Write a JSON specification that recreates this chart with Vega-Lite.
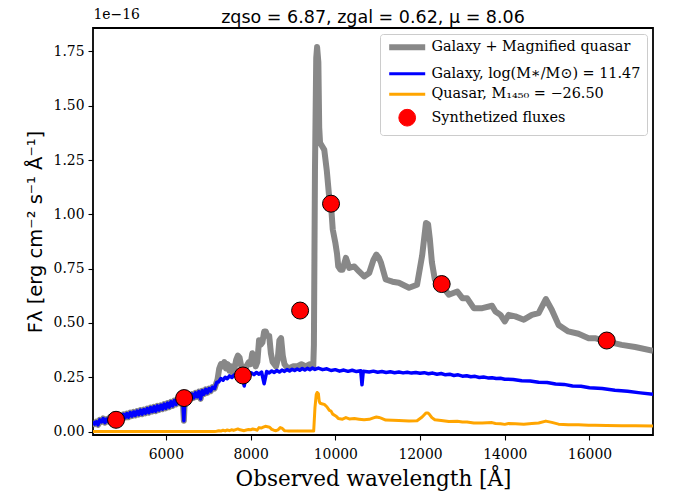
{
  "$schema": "https://vega.github.io/schema/vega-lite/v6.json",
  "autosize": "none",
  "width": 560,
  "height": 407,
  "padding": {"left": 93, "top": 28, "right": 20, "bottom": 60},
  "background": "white",
  "title": {"text": "zqso = 6.87, zgal = 0.62, μ = 8.06", "font": "DejaVu Sans", "fontSize": 17.5, "fontWeight": "normal", "color": "black", "anchor": "middle", "baseline": "alphabetic", "offset": -33},
  "config": {
    "view": {"stroke": "black", "strokeWidth": 1.8},
    "axis": {"grid": false, "domain": false, "tickColor": "black", "tickSize": 5, "tickWidth": 1.1, "labelColor": "black", "labelFont": "DejaVu Serif", "labelFontSize": 13.9, "labelPadding": 4, "titleColor": "black", "titleFontWeight": "normal"}
  },
  "datasets": {
    "galaxy": [
      {"wl": 4280, "flux": 0.046}, {"wl": 4320, "flux": 0.034}, {"wl": 4360, "flux": 0.045}, {"wl": 4400, "flux": 0.031}, {"wl": 4440, "flux": 0.054}, {"wl": 4480, "flux": 0.044}, {"wl": 4520, "flux": 0.060}, {"wl": 4560, "flux": 0.041}, {"wl": 4600, "flux": 0.057}, {"wl": 4640, "flux": 0.046}, {"wl": 4680, "flux": 0.066}, {"wl": 4720, "flux": 0.050}, {"wl": 4760, "flux": 0.068}, {"wl": 4800, "flux": 0.052}, {"wl": 4840, "flux": 0.071}, {"wl": 4880, "flux": 0.058}, {"wl": 4920, "flux": 0.076}, {"wl": 4960, "flux": 0.060}, {"wl": 5000, "flux": 0.079}, {"wl": 5040, "flux": 0.064}, {"wl": 5080, "flux": 0.083}, {"wl": 5120, "flux": 0.066}, {"wl": 5160, "flux": 0.087}, {"wl": 5200, "flux": 0.071}, {"wl": 5240, "flux": 0.090}, {"wl": 5280, "flux": 0.074}, {"wl": 5320, "flux": 0.094}, {"wl": 5360, "flux": 0.078}, {"wl": 5400, "flux": 0.099}, {"wl": 5440, "flux": 0.080}, {"wl": 5480, "flux": 0.101}, {"wl": 5520, "flux": 0.084}, {"wl": 5560, "flux": 0.106}, {"wl": 5600, "flux": 0.087}, {"wl": 5640, "flux": 0.110}, {"wl": 5680, "flux": 0.092}, {"wl": 5720, "flux": 0.114}, {"wl": 5760, "flux": 0.094}, {"wl": 5800, "flux": 0.118}, {"wl": 5840, "flux": 0.099}, {"wl": 5880, "flux": 0.121}, {"wl": 5920, "flux": 0.103}, {"wl": 5960, "flux": 0.126}, {"wl": 6000, "flux": 0.107}, {"wl": 6040, "flux": 0.131}, {"wl": 6080, "flux": 0.112}, {"wl": 6120, "flux": 0.137}, {"wl": 6160, "flux": 0.118}, {"wl": 6200, "flux": 0.143}, {"wl": 6240, "flux": 0.125}, {"wl": 6280, "flux": 0.149}, {"wl": 6320, "flux": 0.130}, {"wl": 6360, "flux": 0.155}, {"wl": 6400, "flux": 0.138}, {"wl": 6425, "flux": 0.050}, {"wl": 6450, "flux": 0.160}, {"wl": 6500, "flux": 0.145}, {"wl": 6540, "flux": 0.166}, {"wl": 6580, "flux": 0.150}, {"wl": 6620, "flux": 0.172}, {"wl": 6660, "flux": 0.155}, {"wl": 6700, "flux": 0.178}, {"wl": 6740, "flux": 0.160}, {"wl": 6780, "flux": 0.184}, {"wl": 6820, "flux": 0.150}, {"wl": 6860, "flux": 0.188}, {"wl": 6900, "flux": 0.172}, {"wl": 6940, "flux": 0.194}, {"wl": 6980, "flux": 0.178}, {"wl": 7020, "flux": 0.198}, {"wl": 7060, "flux": 0.186}, {"wl": 7100, "flux": 0.204}, {"wl": 7150, "flux": 0.198}, {"wl": 7200, "flux": 0.226}, {"wl": 7250, "flux": 0.229}, {"wl": 7300, "flux": 0.244}, {"wl": 7350, "flux": 0.236}, {"wl": 7400, "flux": 0.250}, {"wl": 7450, "flux": 0.243}, {"wl": 7500, "flux": 0.256}, {"wl": 7560, "flux": 0.249}, {"wl": 7620, "flux": 0.261}, {"wl": 7680, "flux": 0.252}, {"wl": 7740, "flux": 0.263}, {"wl": 7800, "flux": 0.256}, {"wl": 7850, "flux": 0.210}, {"wl": 7900, "flux": 0.266}, {"wl": 7960, "flux": 0.259}, {"wl": 8020, "flux": 0.270}, {"wl": 8080, "flux": 0.262}, {"wl": 8140, "flux": 0.272}, {"wl": 8200, "flux": 0.264}, {"wl": 8260, "flux": 0.274}, {"wl": 8320, "flux": 0.220}, {"wl": 8380, "flux": 0.276}, {"wl": 8440, "flux": 0.270}, {"wl": 8500, "flux": 0.279}, {"wl": 8560, "flux": 0.272}, {"wl": 8620, "flux": 0.281}, {"wl": 8680, "flux": 0.274}, {"wl": 8740, "flux": 0.283}, {"wl": 8800, "flux": 0.277}, {"wl": 8860, "flux": 0.285}, {"wl": 8920, "flux": 0.279}, {"wl": 8980, "flux": 0.287}, {"wl": 9040, "flux": 0.281}, {"wl": 9100, "flux": 0.288}, {"wl": 9160, "flux": 0.282}, {"wl": 9220, "flux": 0.290}, {"wl": 9280, "flux": 0.283}, {"wl": 9340, "flux": 0.291}, {"wl": 9400, "flux": 0.285}, {"wl": 9460, "flux": 0.292}, {"wl": 9520, "flux": 0.286}, {"wl": 9600, "flux": 0.292}, {"wl": 9700, "flux": 0.285}, {"wl": 9800, "flux": 0.289}, {"wl": 9900, "flux": 0.281}, {"wl": 10000, "flux": 0.285}, {"wl": 10100, "flux": 0.278}, {"wl": 10200, "flux": 0.283}, {"wl": 10300, "flux": 0.277}, {"wl": 10400, "flux": 0.282}, {"wl": 10500, "flux": 0.276}, {"wl": 10600, "flux": 0.280}, {"wl": 10630, "flux": 0.215}, {"wl": 10660, "flux": 0.278}, {"wl": 10800, "flux": 0.274}, {"wl": 10900, "flux": 0.278}, {"wl": 11000, "flux": 0.273}, {"wl": 11100, "flux": 0.276}, {"wl": 11200, "flux": 0.272}, {"wl": 11300, "flux": 0.275}, {"wl": 11400, "flux": 0.271}, {"wl": 11500, "flux": 0.274}, {"wl": 11600, "flux": 0.270}, {"wl": 11700, "flux": 0.273}, {"wl": 11800, "flux": 0.269}, {"wl": 11900, "flux": 0.272}, {"wl": 12000, "flux": 0.268}, {"wl": 12100, "flux": 0.271}, {"wl": 12200, "flux": 0.266}, {"wl": 12300, "flux": 0.269}, {"wl": 12400, "flux": 0.264}, {"wl": 12500, "flux": 0.267}, {"wl": 12600, "flux": 0.261}, {"wl": 12700, "flux": 0.264}, {"wl": 12800, "flux": 0.258}, {"wl": 12900, "flux": 0.261}, {"wl": 13000, "flux": 0.255}, {"wl": 13100, "flux": 0.257}, {"wl": 13200, "flux": 0.252}, {"wl": 13300, "flux": 0.254}, {"wl": 13400, "flux": 0.249}, {"wl": 13500, "flux": 0.251}, {"wl": 13600, "flux": 0.247}, {"wl": 13700, "flux": 0.248}, {"wl": 13800, "flux": 0.244}, {"wl": 13900, "flux": 0.245}, {"wl": 14000, "flux": 0.241}, {"wl": 14200, "flux": 0.240}, {"wl": 14400, "flux": 0.234}, {"wl": 14600, "flux": 0.233}, {"wl": 14800, "flux": 0.227}, {"wl": 15000, "flux": 0.226}, {"wl": 15200, "flux": 0.219}, {"wl": 15400, "flux": 0.217}, {"wl": 15600, "flux": 0.210}, {"wl": 15800, "flux": 0.208}, {"wl": 16000, "flux": 0.202}, {"wl": 16300, "flux": 0.198}, {"wl": 16600, "flux": 0.190}, {"wl": 16900, "flux": 0.185}, {"wl": 17200, "flux": 0.178}, {"wl": 17500, "flux": 0.172}
    ],
    "total": [
      {"wl": 4280, "flux": 0.046}, {"wl": 4320, "flux": 0.034}, {"wl": 4360, "flux": 0.045}, {"wl": 4400, "flux": 0.031}, {"wl": 4440, "flux": 0.054}, {"wl": 4480, "flux": 0.044}, {"wl": 4520, "flux": 0.060}, {"wl": 4560, "flux": 0.041}, {"wl": 4600, "flux": 0.057}, {"wl": 4640, "flux": 0.046}, {"wl": 4680, "flux": 0.066}, {"wl": 4720, "flux": 0.050}, {"wl": 4760, "flux": 0.068}, {"wl": 4800, "flux": 0.052}, {"wl": 4840, "flux": 0.071}, {"wl": 4880, "flux": 0.058}, {"wl": 4920, "flux": 0.076}, {"wl": 4960, "flux": 0.060}, {"wl": 5000, "flux": 0.079}, {"wl": 5040, "flux": 0.064}, {"wl": 5080, "flux": 0.083}, {"wl": 5120, "flux": 0.066}, {"wl": 5160, "flux": 0.087}, {"wl": 5200, "flux": 0.071}, {"wl": 5240, "flux": 0.090}, {"wl": 5280, "flux": 0.074}, {"wl": 5320, "flux": 0.094}, {"wl": 5360, "flux": 0.078}, {"wl": 5400, "flux": 0.099}, {"wl": 5440, "flux": 0.080}, {"wl": 5480, "flux": 0.101}, {"wl": 5520, "flux": 0.084}, {"wl": 5560, "flux": 0.106}, {"wl": 5600, "flux": 0.087}, {"wl": 5640, "flux": 0.110}, {"wl": 5680, "flux": 0.092}, {"wl": 5720, "flux": 0.114}, {"wl": 5760, "flux": 0.094}, {"wl": 5800, "flux": 0.118}, {"wl": 5840, "flux": 0.099}, {"wl": 5880, "flux": 0.121}, {"wl": 5920, "flux": 0.103}, {"wl": 5960, "flux": 0.126}, {"wl": 6000, "flux": 0.107}, {"wl": 6040, "flux": 0.131}, {"wl": 6080, "flux": 0.112}, {"wl": 6120, "flux": 0.137}, {"wl": 6160, "flux": 0.118}, {"wl": 6200, "flux": 0.143}, {"wl": 6240, "flux": 0.125}, {"wl": 6280, "flux": 0.149}, {"wl": 6320, "flux": 0.130}, {"wl": 6360, "flux": 0.155}, {"wl": 6400, "flux": 0.138}, {"wl": 6425, "flux": 0.050}, {"wl": 6450, "flux": 0.160}, {"wl": 6500, "flux": 0.145}, {"wl": 6540, "flux": 0.166}, {"wl": 6580, "flux": 0.150}, {"wl": 6620, "flux": 0.172}, {"wl": 6660, "flux": 0.155}, {"wl": 6700, "flux": 0.178}, {"wl": 6740, "flux": 0.160}, {"wl": 6780, "flux": 0.184}, {"wl": 6820, "flux": 0.150}, {"wl": 6860, "flux": 0.188}, {"wl": 6900, "flux": 0.172}, {"wl": 6940, "flux": 0.194}, {"wl": 6980, "flux": 0.178}, {"wl": 7020, "flux": 0.198}, {"wl": 7060, "flux": 0.186}, {"wl": 7100, "flux": 0.204}, {"wl": 7150, "flux": 0.198},
      {"wl": 7220, "flux": 0.24}, {"wl": 7260, "flux": 0.29}, {"wl": 7300, "flux": 0.31}, {"wl": 7340, "flux": 0.30}, {"wl": 7380, "flux": 0.32}, {"wl": 7420, "flux": 0.29}, {"wl": 7460, "flux": 0.31}, {"wl": 7500, "flux": 0.28}, {"wl": 7540, "flux": 0.30}, {"wl": 7580, "flux": 0.27}, {"wl": 7620, "flux": 0.29}, {"wl": 7660, "flux": 0.33}, {"wl": 7700, "flux": 0.35}, {"wl": 7740, "flux": 0.34}, {"wl": 7780, "flux": 0.30}, {"wl": 7820, "flux": 0.28}, {"wl": 7860, "flux": 0.27}, {"wl": 7900, "flux": 0.30}, {"wl": 7960, "flux": 0.32}, {"wl": 8000, "flux": 0.31}, {"wl": 8040, "flux": 0.36}, {"wl": 8080, "flux": 0.35}, {"wl": 8120, "flux": 0.30}, {"wl": 8160, "flux": 0.32}, {"wl": 8200, "flux": 0.42}, {"wl": 8240, "flux": 0.40}, {"wl": 8280, "flux": 0.41}, {"wl": 8320, "flux": 0.46}, {"wl": 8360, "flux": 0.46}, {"wl": 8400, "flux": 0.44}, {"wl": 8440, "flux": 0.44}, {"wl": 8480, "flux": 0.36}, {"wl": 8520, "flux": 0.32}, {"wl": 8560, "flux": 0.31}, {"wl": 8600, "flux": 0.30}, {"wl": 8640, "flux": 0.33}, {"wl": 8680, "flux": 0.42}, {"wl": 8720, "flux": 0.43}, {"wl": 8760, "flux": 0.35}, {"wl": 8800, "flux": 0.31}, {"wl": 8840, "flux": 0.30}, {"wl": 8900, "flux": 0.29}, {"wl": 9000, "flux": 0.30}, {"wl": 9100, "flux": 0.30}, {"wl": 9200, "flux": 0.31}, {"wl": 9300, "flux": 0.30}, {"wl": 9400, "flux": 0.31}, {"wl": 9480, "flux": 0.30},
      {"wl": 9495, "flux": 0.40}, {"wl": 9520, "flux": 1.20}, {"wl": 9550, "flux": 1.72}, {"wl": 9570, "flux": 1.77}, {"wl": 9600, "flux": 1.70}, {"wl": 9620, "flux": 1.40}, {"wl": 9640, "flux": 1.33}, {"wl": 9700, "flux": 1.31}, {"wl": 9740, "flux": 1.297}, {"wl": 9800, "flux": 1.20}, {"wl": 9860, "flux": 1.07}, {"wl": 9900, "flux": 1.04}, {"wl": 9940, "flux": 0.93}, {"wl": 10000, "flux": 0.87}, {"wl": 10040, "flux": 0.82}, {"wl": 10070, "flux": 0.76}, {"wl": 10120, "flux": 0.745}, {"wl": 10170, "flux": 0.745}, {"wl": 10250, "flux": 0.80}, {"wl": 10330, "flux": 0.753}, {"wl": 10450, "flux": 0.76}, {"wl": 10560, "flux": 0.737}, {"wl": 10680, "flux": 0.714}, {"wl": 10800, "flux": 0.73}, {"wl": 10900, "flux": 0.79}, {"wl": 10970, "flux": 0.815}, {"wl": 11030, "flux": 0.80}, {"wl": 11080, "flux": 0.776}, {"wl": 11190, "flux": 0.70}, {"wl": 11350, "flux": 0.69}, {"wl": 11500, "flux": 0.685}, {"wl": 11740, "flux": 0.662}, {"wl": 11930, "flux": 0.676}, {"wl": 12050, "flux": 0.81}, {"wl": 12140, "flux": 0.96}, {"wl": 12190, "flux": 0.955}, {"wl": 12230, "flux": 0.89}, {"wl": 12280, "flux": 0.78}, {"wl": 12350, "flux": 0.70}, {"wl": 12500, "flux": 0.675}, {"wl": 12680, "flux": 0.63}, {"wl": 12880, "flux": 0.645}, {"wl": 13000, "flux": 0.614}, {"wl": 13110, "flux": 0.614}, {"wl": 13270, "flux": 0.568}, {"wl": 13470, "flux": 0.568}, {"wl": 13700, "flux": 0.579}, {"wl": 13780, "flux": 0.553}, {"wl": 13900, "flux": 0.537}, {"wl": 14000, "flux": 0.507}, {"wl": 14090, "flux": 0.537}, {"wl": 14250, "flux": 0.53}, {"wl": 14450, "flux": 0.515}, {"wl": 14640, "flux": 0.537}, {"wl": 14800, "flux": 0.545}, {"wl": 14970, "flux": 0.61}, {"wl": 15110, "flux": 0.561}, {"wl": 15270, "flux": 0.491}, {"wl": 15500, "flux": 0.461}, {"wl": 15740, "flux": 0.45}, {"wl": 15980, "flux": 0.43}, {"wl": 16130, "flux": 0.43}, {"wl": 16400, "flux": 0.415}, {"wl": 16760, "flux": 0.399}, {"wl": 17080, "flux": 0.389}, {"wl": 17500, "flux": 0.372}
    ],
    "quasar": [
      {"wl": 4280, "flux": 0.0}, {"wl": 7150, "flux": 0.0}, {"wl": 7200, "flux": 0.001}, {"wl": 7250, "flux": 0.004}, {"wl": 7300, "flux": 0.002}, {"wl": 7350, "flux": 0.006}, {"wl": 7400, "flux": 0.003}, {"wl": 7450, "flux": 0.007}, {"wl": 7500, "flux": 0.004}, {"wl": 7550, "flux": 0.008}, {"wl": 7600, "flux": 0.005}, {"wl": 7650, "flux": 0.009}, {"wl": 7700, "flux": 0.012}, {"wl": 7750, "flux": 0.008}, {"wl": 7800, "flux": 0.006}, {"wl": 7850, "flux": 0.004}, {"wl": 7900, "flux": 0.007}, {"wl": 7950, "flux": 0.009}, {"wl": 8000, "flux": 0.008}, {"wl": 8050, "flux": 0.012}, {"wl": 8100, "flux": 0.010}, {"wl": 8150, "flux": 0.006}, {"wl": 8200, "flux": 0.018}, {"wl": 8250, "flux": 0.016}, {"wl": 8300, "flux": 0.020}, {"wl": 8350, "flux": 0.024}, {"wl": 8400, "flux": 0.022}, {"wl": 8450, "flux": 0.020}, {"wl": 8500, "flux": 0.010}, {"wl": 8550, "flux": 0.006}, {"wl": 8600, "flux": 0.004}, {"wl": 8650, "flux": 0.008}, {"wl": 8700, "flux": 0.018}, {"wl": 8750, "flux": 0.014}, {"wl": 8800, "flux": 0.004}, {"wl": 8850, "flux": 0.003}, {"wl": 8900, "flux": 0.002}, {"wl": 9000, "flux": 0.002}, {"wl": 9100, "flux": 0.003}, {"wl": 9200, "flux": 0.002}, {"wl": 9300, "flux": 0.002}, {"wl": 9400, "flux": 0.002}, {"wl": 9490, "flux": 0.002},
      {"wl": 9520, "flux": 0.11}, {"wl": 9550, "flux": 0.17}, {"wl": 9570, "flux": 0.18}, {"wl": 9600, "flux": 0.175}, {"wl": 9620, "flux": 0.14}, {"wl": 9640, "flux": 0.13}, {"wl": 9700, "flux": 0.127}, {"wl": 9740, "flux": 0.125}, {"wl": 9800, "flux": 0.114}, {"wl": 9860, "flux": 0.097}, {"wl": 9900, "flux": 0.094}, {"wl": 9940, "flux": 0.08}, {"wl": 10000, "flux": 0.073}, {"wl": 10040, "flux": 0.067}, {"wl": 10070, "flux": 0.06}, {"wl": 10170, "flux": 0.057}, {"wl": 10250, "flux": 0.064}, {"wl": 10330, "flux": 0.058}, {"wl": 10450, "flux": 0.06}, {"wl": 10560, "flux": 0.057}, {"wl": 10680, "flux": 0.054}, {"wl": 10800, "flux": 0.056}, {"wl": 10900, "flux": 0.063}, {"wl": 10970, "flux": 0.067}, {"wl": 11030, "flux": 0.065}, {"wl": 11080, "flux": 0.062}, {"wl": 11190, "flux": 0.053}, {"wl": 11350, "flux": 0.052}, {"wl": 11500, "flux": 0.051}, {"wl": 11740, "flux": 0.049}, {"wl": 11930, "flux": 0.05}, {"wl": 12050, "flux": 0.067}, {"wl": 12140, "flux": 0.085}, {"wl": 12190, "flux": 0.085}, {"wl": 12230, "flux": 0.077}, {"wl": 12280, "flux": 0.064}, {"wl": 12350, "flux": 0.054}, {"wl": 12500, "flux": 0.051}, {"wl": 12680, "flux": 0.046}, {"wl": 12880, "flux": 0.047}, {"wl": 13000, "flux": 0.044}, {"wl": 13110, "flux": 0.044}, {"wl": 13270, "flux": 0.039}, {"wl": 13470, "flux": 0.039}, {"wl": 13700, "flux": 0.041}, {"wl": 13780, "flux": 0.037}, {"wl": 13900, "flux": 0.036}, {"wl": 14000, "flux": 0.033}, {"wl": 14090, "flux": 0.037}, {"wl": 14250, "flux": 0.036}, {"wl": 14450, "flux": 0.034}, {"wl": 14640, "flux": 0.037}, {"wl": 14800, "flux": 0.039}, {"wl": 14970, "flux": 0.048}, {"wl": 15110, "flux": 0.042}, {"wl": 15270, "flux": 0.034}, {"wl": 15500, "flux": 0.031}, {"wl": 15740, "flux": 0.031}, {"wl": 15980, "flux": 0.029}, {"wl": 16130, "flux": 0.029}, {"wl": 16400, "flux": 0.028}, {"wl": 16760, "flux": 0.027}, {"wl": 17080, "flux": 0.027}, {"wl": 17500, "flux": 0.025}
    ],
    "fluxes": [
      {"wl": 4824, "flux": 0.054}, {"wl": 6431, "flux": 0.154}, {"wl": 7819, "flux": 0.258}, {"wl": 9169, "flux": 0.557}, {"wl": 9899, "flux": 1.049}, {"wl": 12511, "flux": 0.679}, {"wl": 16407, "flux": 0.419}
    ]
  },
  "resolve": {"axis": {"y": "independent"}},
  "layer": [
    {
      "data": {"name": "total"},
      "mark": {"type": "line", "strokeWidth": 6, "strokeJoin": "round", "clip": true},
      "encoding": {
        "x": {"field": "wl", "type": "quantitative", "scale": {"domain": [4280, 17500], "nice": false, "zero": false},
          "axis": {"values": [6000, 8000, 10000, 12000, 14000, 16000], "format": "d", "labelPadding": 7, "title": "Observed wavelength [Å]", "titleFont": "DejaVu Serif", "titleFontSize": 21.5, "titlePadding": 8}},
        "y": {"field": "flux", "type": "quantitative", "scale": {"domain": [-0.016, 1.858], "nice": false, "zero": false},
          "axis": {"orient": "left", "values": [0, 0.25, 0.5, 0.75, 1.0, 1.25, 1.5, 1.75], "format": ".2f", "title": "Fλ [erg cm⁻² s⁻¹ Å⁻¹]", "titleFont": "DejaVu Sans", "titleFontSize": 19.5, "titlePadding": 8}},
        "color": {"datum": "Galaxy + Magnified quasar", "type": "nominal",
          "scale": {"domain": ["Galaxy + Magnified quasar", "Galaxy, log(M∗/M⊙) = 11.47", "Quasar, M₁₄₅₀ = −26.50", "Synthetized fluxes"], "range": ["#888888", "#0000ff", "#ffa500", "#ff0000"]},
          "legend": {"title": null, "orient": "top-right", "offset": 6, "padding": 6, "rowPadding": 5.5, "symbolSize": 256, "symbolOffset": 14, "labelOffset": 17, "labelFont": "DejaVu Serif", "labelFontSize": 14.4, "labelColor": "black", "labelLimit": 400, "fillColor": "white", "strokeColor": "#cccccc", "cornerRadius": 3,
            "encode": {"symbols": {"update": {
              "shape": {"signal": "datum.value === 'Synthetized fluxes' ? 'circle' : 'stroke'"},
              "size": {"signal": "datum.value === 'Synthetized fluxes' ? 280 : 1296"},
              "strokeWidth": {"signal": "datum.value === 'Synthetized fluxes' ? 1 : (datum.value === 'Galaxy + Magnified quasar' ? 6 : 3)"},
              "stroke": {"signal": "datum.value === 'Synthetized fluxes' ? 'black' : (datum.value === 'Galaxy + Magnified quasar' ? '#888888' : (datum.value === 'Quasar, M₁₄₅₀ = −26.50' ? '#ffa500' : '#0000ff'))"},
              "fill": {"signal": "datum.value === 'Synthetized fluxes' ? '#ff0000' : 'transparent'"},
              "opacity": {"value": 1}
            }}}}
        }
      }
    },
    {
      "data": {"name": "galaxy"},
      "mark": {"type": "line", "strokeWidth": 3.5, "strokeJoin": "round", "clip": true},
      "encoding": {
        "x": {"field": "wl", "type": "quantitative"},
        "y": {"field": "flux", "type": "quantitative", "axis": null},
        "color": {"datum": "Galaxy, log(M∗/M⊙) = 11.47", "type": "nominal"}
      }
    },
    {
      "data": {"name": "quasar"},
      "mark": {"type": "line", "strokeWidth": 3, "strokeJoin": "round", "clip": true},
      "encoding": {
        "x": {"field": "wl", "type": "quantitative"},
        "y": {"field": "flux", "type": "quantitative", "axis": null},
        "color": {"datum": "Quasar, M₁₄₅₀ = −26.50", "type": "nominal"}
      }
    },
    {
      "data": {"name": "fluxes"},
      "mark": {"type": "point", "filled": true, "size": 289, "stroke": "black", "strokeWidth": 1, "opacity": 1, "shape": "circle"},
      "encoding": {
        "x": {"field": "wl", "type": "quantitative"},
        "y": {"field": "flux", "type": "quantitative",
          "axis": {"orient": "left", "title": "1e−16", "labels": false, "ticks": false, "domain": false, "grid": false, "titleAngle": 0, "titleX": 0, "titleY": -14, "titleAlign": "left", "titleBaseline": "middle", "titleFont": "DejaVu Serif", "titleFontSize": 13.9, "titleFontWeight": "normal"}},
        "color": {"datum": "Synthetized fluxes", "type": "nominal"}
      }
    }
  ]
}
